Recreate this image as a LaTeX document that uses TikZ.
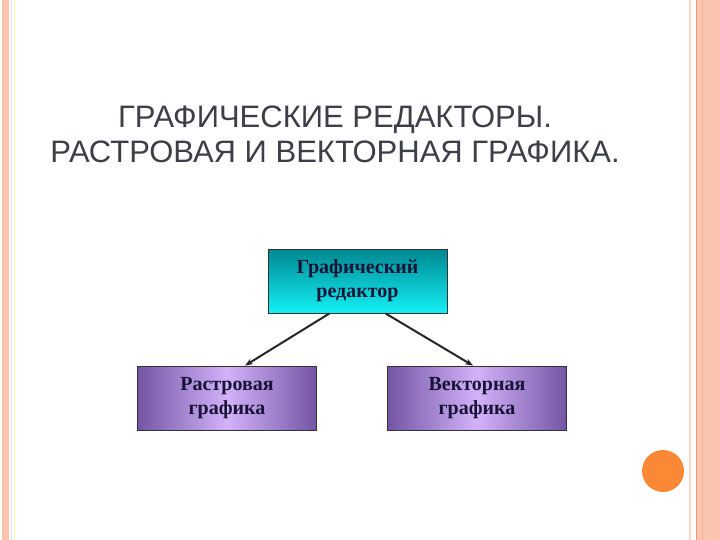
\documentclass[tikz,border=0pt]{standalone}
\usepackage{fontspec}
\setmainfont{Liberation Serif}
\newfontfamily\titlefont{Liberation Sans}
\usetikzlibrary{arrows.meta}

\definecolor{salmon}{RGB}{252,196,174}
\definecolor{salmondark}{RGB}{240,150,120}
\definecolor{dotorange}{RGB}{250,136,52}
\definecolor{tealtop}{RGB}{0,135,145}
\definecolor{cyanbot}{RGB}{20,240,245}
\definecolor{violetedge}{RGB}{115,85,165}
\definecolor{violetmid}{RGB}{210,178,248}
\definecolor{boxtext}{RGB}{25,20,55}
\definecolor{titlegray}{RGB}{62,62,72}

\tikzset{
  box/.style={draw=black!80, line width=0.8pt, minimum width=179pt, minimum height=64pt,
    align=center, text=boxtext, font=\fontsize{20}{24}\selectfont\bfseries},
  editorbox/.style={box, top color=tealtop, bottom color=cyanbot},
  kindbox/.style={box, left color=violetedge, right color=violetedge, middle color=violetmid},
  link/.style={-{Stealth[length=8pt,width=6pt]}, line width=2pt, black!85}
}

\begin{document}
\begin{tikzpicture}[x=1pt,y=-1pt]
\useasboundingbox (0,0) rectangle (720,540);
\fill [white] (0,0) rectangle (720,540);
% left border
\fill [salmon] (3,0) rectangle (9,540);
\draw [salmondark!60,line width=0.5pt] (2.5,0) -- (2.5,540);
\draw [blue!12,line width=0.6pt] (11.5,0) -- (11.5,540);
\draw [yellow!30,line width=0.6pt] (14,0) -- (14,540);
% right border
\draw [salmon!70,line width=1.2pt] (690,0) -- (690,540);
\fill [salmon] (696.5,0) rectangle (720,540);
\draw [salmondark,line width=0.6pt] (696.5,0) -- (696.5,540);
\draw [salmondark!70,line width=0.6pt] (702,0) -- (702,540);
\draw [salmondark!50,line width=0.5pt] (707,0) -- (707,540);
% dot
\fill [dotorange] (663,471) circle [radius=21];

% title
\node [align=center, text=titlegray, font=\titlefont\fontsize{31}{35}\selectfont] (title) at (335,134)
  {ГРАФИЧЕСКИЕ РЕДАКТОРЫ.\\РАСТРОВАЯ И ВЕКТОРНАЯ ГРАФИКА.};

\node [editorbox] (editor) at (357.5,281) {Графический\\редактор};
\node [kindbox] (raster) at (227,398) {Растровая\\графика};
\node [kindbox] (vector) at (477,398) {Векторная\\графика};

\draw [link] ([xshift=-28pt]editor.south) -- ([xshift=18pt]raster.north);
\draw [link] ([xshift=28pt]editor.south) -- ([xshift=-4pt]vector.north);
\end{tikzpicture}
\end{document}
